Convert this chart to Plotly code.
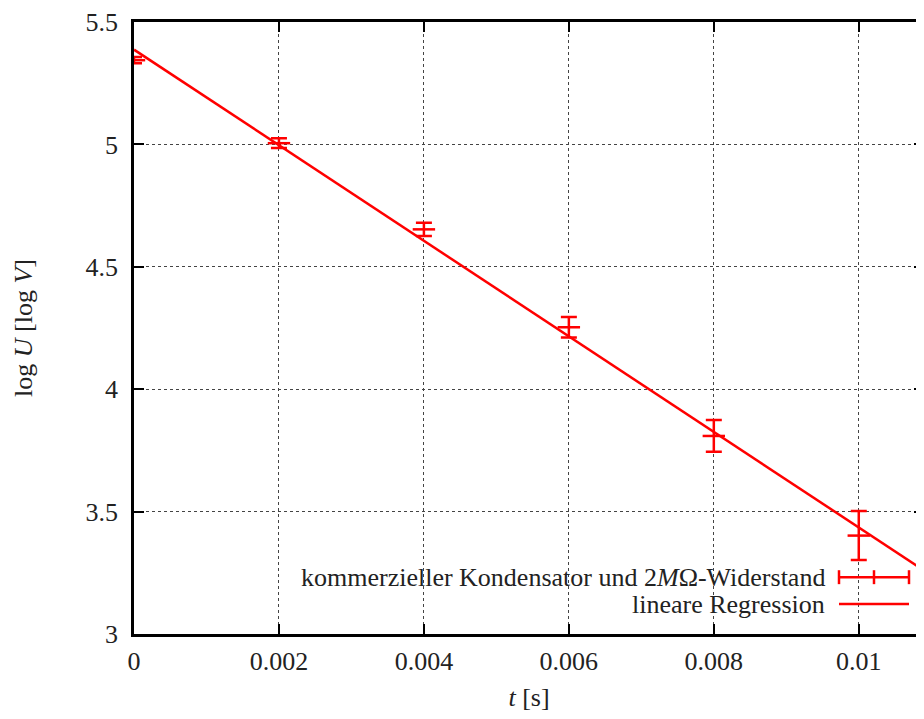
import plotly.graph_objects as go

# ---- data ----
t_s = [0.0, 0.002, 0.004, 0.006, 0.008, 0.010]
logU = [5.344, 5.005, 4.653, 4.253, 3.809, 3.402]
logU_err = [0.013, 0.020, 0.027, 0.042, 0.065, 0.100]

reg_t = [0.0, 0.011]
reg_logU = [5.387, 3.240]

x_tickvals = [0, 0.002, 0.004, 0.006, 0.008, 0.010]
x_ticktext = ["0", "0.002", "0.004", "0.006", "0.008", "0.01"]
y_tickvals = [3, 3.5, 4, 4.5, 5, 5.5]
y_ticktext = ["3", "3.5", "4", "4.5", "5", "5.5"]

legend_labels = ["kommerzieller Kondensator und 2<i>M</i>Ω-Widerstand", "lineare Regression"]

# ---- layout (page body adds an 8px offset) ----
OFF = 8
W, H = 916, 711
ML, MR, MT, MB = 134 - OFF, 0, 20 - OFF, 85
RED = "#ff0000"
FONT = "Liberation Serif"
TXT = "#222222"

fig = go.Figure()

fig.add_trace(go.Scatter(
    x=reg_t, y=reg_logU, mode="lines",
    line=dict(color=RED, width=2.5), showlegend=False, hoverinfo="skip"))

fig.add_trace(go.Scatter(
    x=t_s, y=logU, mode="markers",
    marker=dict(symbol="line-ew", size=16, color=RED, line=dict(color=RED, width=2.5)),
    error_y=dict(type="data", array=logU_err, visible=True, color=RED, thickness=2.5, width=8),
    showlegend=False))

pw = W - ML - MR
ph = H - MT - MB
def px(xp):  # screen pixel -> paper
    return (xp - OFF - ML) / pw
def py(yp):
    return (H - MB - (yp - OFF)) / ph

# legend-like labels (gnuplot style: text left, sample right)
leg_y = [577, 604]
for lab, yy in zip(legend_labels, leg_y):
    fig.add_annotation(x=px(827), y=py(yy), xref="paper", yref="paper",
                       text=lab, showarrow=False, xanchor="right", yanchor="middle",
                       font=dict(family=FONT, size=26, color=TXT))
shapes = []
shapes.append(dict(type="line", xref="paper", yref="paper", x0=px(839), x1=px(909),
                   y0=py(577), y1=py(577), line=dict(color=RED, width=2.5)))
for xx in (839, 874, 909):
    shapes.append(dict(type="line", xref="paper", yref="paper", x0=px(xx), x1=px(xx),
                       y0=py(570), y1=py(584), line=dict(color=RED, width=2.5)))
shapes.append(dict(type="line", xref="paper", yref="paper", x0=px(839), x1=px(909),
                   y0=py(604), y1=py(604), line=dict(color=RED, width=2.5)))

fig.update_layout(
    width=W, height=H,
    margin=dict(l=ML, r=MR, t=MT, b=MB),
    plot_bgcolor="white", paper_bgcolor="white",
    font=dict(family=FONT, size=26, color=TXT),
    shapes=shapes,
    xaxis=dict(range=[0, 0.0109], tickvals=x_tickvals, ticktext=x_ticktext,
               ticks="inside", ticklen=10, tickwidth=2, tickcolor="black",
               showline=True, linecolor="black", linewidth=2.5, mirror="ticks",
               showgrid=True, gridcolor="#444444", gridwidth=1, griddash="dot",
               zeroline=False, ticklabelstandoff=2,
               title=dict(text="<i>t</i> [s]", font=dict(family=FONT, size=26, color=TXT), standoff=13)),
    yaxis=dict(range=[3, 5.5], tickvals=y_tickvals, ticktext=y_ticktext,
               ticks="inside", ticklen=10, tickwidth=2, tickcolor="black",
               showline=True, linecolor="black", linewidth=2.5, mirror=False,
               showgrid=True, gridcolor="#444444", gridwidth=1, griddash="dot",
               zeroline=False, ticklabelstandoff=8, ticklabeloverflow="allow",
               title=dict(text="log <i>U</i> [log <i>V</i>]", font=dict(family=FONT, size=26, color=TXT), standoff=46)),
    yaxis2=dict(range=[3, 5.5], overlaying="y", side="right", tickvals=y_tickvals,
                ticks="inside", ticklen=10, tickwidth=2, tickcolor="black",
                showticklabels=False, showline=False, showgrid=False, zeroline=False),
)

fig.add_trace(go.Scatter(x=[None], y=[None], yaxis="y2", showlegend=False, hoverinfo="skip"))

fig.write_html("out.html")
